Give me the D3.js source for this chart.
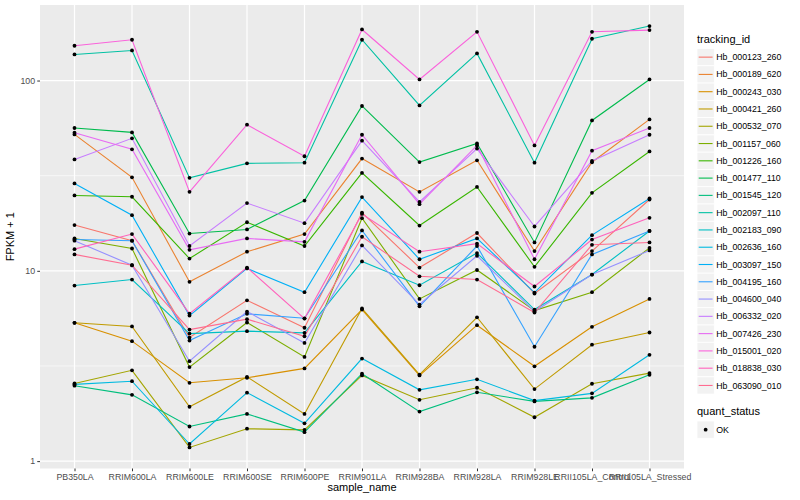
<!DOCTYPE html>
<html>
<head>
<meta charset="utf-8">
<script src="https://cdn.jsdelivr.net/npm/d3@7"></script>
<style>
  body { margin: 0; background: #fff; }
  text { font-family: "Liberation Sans", Arial, Helvetica, sans-serif; }
</style>
</head>
<body>
<div id="chart"></div>
<script>
// samples on the x axis
var samples = ["PB350LA", "RRIM600LA", "RRIM600LE", "RRIM600SE", "RRIM600PE", "RRIM901LA",
  "RRIM928BA", "RRIM928LA", "RRIM928LE", "RRII105LA_Control", "RRII105LA_Stressed"];

var trackingIds = ["Hb_000123_260", "Hb_000189_620", "Hb_000243_030", "Hb_000421_260", "Hb_000532_070",
  "Hb_001157_060", "Hb_001226_160", "Hb_001477_110", "Hb_001545_120", "Hb_002097_110",
  "Hb_002183_090", "Hb_002636_160", "Hb_003097_150", "Hb_004195_160", "Hb_004600_040",
  "Hb_006332_020", "Hb_007426_230", "Hb_015001_020", "Hb_018838_030", "Hb_063090_010"];

// ggplot hue palette, 20 levels
var colors = ["#F8766D", "#EA8331", "#D89000", "#C09B00", "#A3A500", "#7CAE00", "#39B600", "#00BB4E",
  "#00BF7D", "#00C1A3", "#00BFC4", "#00BAE0", "#00B0F6", "#35A2FF", "#9590FF", "#C77CFF",
  "#E76BF3", "#FA62DB", "#FF62BC", "#FF6C91"];

// FPKM + 1 per sample
var hb_000123_260 = [17.4, 14.4, 4.46, 7.0, 5.02, 20.2, 10.4, 15.8, 7.6, 12.7, 23.7];
var hb_000189_620 = [52.1, 31.0, 8.75, 12.6, 15.6, 38.9, 26.0, 38.1, 12.7, 37.2, 62.5];
var hb_000243_030 = [5.33, 4.27, 2.58, 2.74, 3.07, 6.26, 2.82, 5.18, 3.15, 5.08, 7.12];
var hb_000421_260 = [5.33, 5.10, 1.93, 2.77, 1.77, 6.34, 2.85, 5.70, 2.39, 4.09, 4.74];
var hb_000532_070 = [2.56, 3.00, 1.18, 1.48, 1.46, 2.82, 2.10, 2.43, 1.70, 2.55, 2.90];
var hb_001157_060 = [14.8, 13.1, 3.12, 5.35, 3.53, 18.9, 7.12, 10.1, 6.18, 7.72, 13.2];
var hb_001226_160 = [24.9, 24.5, 11.6, 18.0, 13.5, 32.7, 17.3, 27.6, 10.5, 25.7, 42.4];
var hb_001477_110 = [56.3, 53.4, 15.7, 16.5, 23.4, 73.5, 37.3, 46.7, 14.1, 61.7, 101.3];
var hb_001545_120 = [2.49, 2.23, 1.52, 1.77, 1.42, 2.88, 1.82, 2.30, 2.06, 2.15, 2.84];
var hb_002097_110 = [137.1, 143.9, 30.8, 36.7, 37.0, 163.8, 74.0, 138.8, 37.0, 165.8, 193.3];
var hb_002183_090 = [8.37, 9.0, 4.68, 4.82, 4.72, 11.2, 8.40, 12.4, 6.26, 9.56, 16.2];
var hb_002636_160 = [2.53, 2.63, 1.23, 2.29, 1.58, 3.46, 2.37, 2.69, 2.08, 2.27, 3.62];
var hb_003097_150 = [28.8, 19.6, 5.82, 10.3, 7.72, 24.4, 11.5, 14.8, 7.69, 15.4, 24.0];
var hb_004195_160 = [14.6, 14.4, 4.30, 5.94, 5.63, 16.3, 6.51, 13.5, 3.99, 12.2, 16.2];
var hb_004600_040 = [14.4, 10.7, 3.35, 6.11, 4.18, 13.6, 6.65, 12.0, 6.11, 9.56, 12.8];
var hb_006332_020 = [38.5, 49.7, 13.5, 22.7, 17.8, 48.3, 23.0, 43.9, 17.1, 37.8, 51.9];
var hb_007426_230 = [53.2, 43.5, 12.9, 14.8, 14.2, 51.9, 22.4, 45.6, 11.5, 42.8, 56.3];
var hb_015001_020 = [152.3, 163.8, 26.0, 58.6, 40.0, 185.5, 101.3, 180.4, 45.6, 180.4, 184.1];
var hb_018838_030 = [13.0, 15.6, 5.96, 10.4, 5.61, 19.9, 12.6, 13.9, 8.27, 14.6, 19.0];
var hb_063090_010 = [12.2, 10.7, 4.91, 5.57, 4.53, 15.1, 9.36, 9.0, 6.04, 13.7, 14.1];

var yMajor = [1, 10, 100];

var seriesValues = [hb_000123_260, hb_000189_620, hb_000243_030, hb_000421_260, hb_000532_070,
  hb_001157_060, hb_001226_160, hb_001477_110, hb_001545_120, hb_002097_110,
  hb_002183_090, hb_002636_160, hb_003097_150, hb_004195_160, hb_004600_040,
  hb_006332_020, hb_007426_230, hb_015001_020, hb_018838_030, hb_063090_010];

var series = trackingIds.map(function (id, i) {
  return {
    id: id,
    color: colors[i],
    points: samples.map(function (s, j) { return { sample: s, value: seriesValues[i][j] }; })
  };
});

var width = 800, height = 500;
var panel = { left: 40, right: 684, top: 5, bottom: 468.5 };

var svg = d3.select("#chart").append("svg")
  .attr("width", width)
  .attr("height", height);

// x: discrete with ggplot's 0.6 expansion
var x = d3.scalePoint()
  .domain(samples)
  .range([panel.left, panel.right])
  .padding(0.6);

// y: log10 with 5% expansion like ggplot
var all = [];
seriesValues.forEach(function (a) { all = all.concat(a); });
var lmin = Math.log10(d3.min(all)), lmax = Math.log10(d3.max(all));
var ex = (lmax - lmin) * 0.05;
var y = d3.scaleLog()
  .domain([Math.pow(10, lmin - ex), Math.pow(10, lmax + ex)])
  .range([panel.bottom, panel.top]);

// panel background
svg.append("rect")
  .attr("x", panel.left)
  .attr("y", panel.top)
  .attr("width", panel.right - panel.left)
  .attr("height", panel.bottom - panel.top)
  .attr("fill", "#EBEBEB");

// minor grid at log midpoints
var yMinor = [Math.pow(10, -0.5), Math.pow(10, 0.5), Math.pow(10, 1.5), Math.pow(10, 2.5)]
  .filter(function (d) { return d >= y.domain()[0] && d <= y.domain()[1]; });

svg.append("g").selectAll("line")
  .data(yMinor)
  .enter().append("line")
  .attr("x1", panel.left).attr("x2", panel.right)
  .attr("y1", function (d) { return y(d); })
  .attr("y2", function (d) { return y(d); })
  .attr("stroke", "#fff")
  .attr("stroke-width", 0.6);

svg.append("g").selectAll("line")
  .data(yMajor)
  .enter().append("line")
  .attr("x1", panel.left).attr("x2", panel.right)
  .attr("y1", function (d) { return y(d); })
  .attr("y2", function (d) { return y(d); })
  .attr("stroke", "#fff")
  .attr("stroke-width", 1.2);

svg.append("g").selectAll("line")
  .data(samples)
  .enter().append("line")
  .attr("x1", function (d) { return x(d); })
  .attr("x2", function (d) { return x(d); })
  .attr("y1", panel.top).attr("y2", panel.bottom)
  .attr("stroke", "#fff")
  .attr("stroke-width", 1.2);

// lines
var line = d3.line()
  .x(function (d) { return x(d.sample); })
  .y(function (d) { return y(d.value); });

svg.append("g").selectAll("path")
  .data(series)
  .enter().append("path")
  .attr("d", function (d) { return line(d.points); })
  .attr("fill", "none")
  .attr("stroke", function (d) { return d.color; })
  .attr("stroke-width", 1.1);

// points, all black (quant_status = OK)
var pts = [];
series.forEach(function (s) { pts = pts.concat(s.points); });
svg.append("g").selectAll("circle")
  .data(pts)
  .enter().append("circle")
  .attr("cx", function (d) { return x(d.sample); })
  .attr("cy", function (d) { return y(d.value); })
  .attr("r", 1.9)
  .attr("fill", "#000");

// axes
var xAxis = svg.append("g")
  .attr("transform", "translate(0," + panel.bottom + ")")
  .call(d3.axisBottom(x).tickSize(2.75).tickPadding(2.2));
var yAxis = svg.append("g")
  .attr("transform", "translate(" + panel.left + ",0)")
  .call(d3.axisLeft(y).tickValues(yMajor).tickFormat(d3.format("d")).tickSize(2.75).tickPadding(2.2));

[xAxis, yAxis].forEach(function (g) {
  g.select(".domain").remove();
  g.selectAll(".tick line").attr("stroke", "#333333").attr("stroke-width", 1);
  g.selectAll(".tick text")
    .attr("fill", "#4D4D4D")
    .style("font-size", "8.8px")
    .style("font-family", "'Liberation Sans', Arial, sans-serif");
});

// axis titles
svg.append("text")
  .attr("x", (panel.left + panel.right) / 2)
  .attr("y", 491)
  .attr("text-anchor", "middle")
  .style("font-size", "11px")
  .text("sample_name");

svg.append("text")
  .attr("transform", "rotate(-90)")
  .attr("x", -(panel.top + panel.bottom) / 2)
  .attr("y", 14)
  .attr("text-anchor", "middle")
  .style("font-size", "11px")
  .text("FPKM + 1");

// legend: tracking_id
var keySize = 17.28, legX = 697, legTop = 48.5;
var legend = svg.append("g");
legend.append("text")
  .attr("x", legX)
  .attr("y", 43)
  .style("font-size", "11px")
  .text("tracking_id");

var item = legend.selectAll("g.item")
  .data(series)
  .enter().append("g")
  .attr("class", "item")
  .attr("transform", function (d, i) { return "translate(" + legX + "," + (legTop + i * keySize) + ")"; });

item.append("rect")
  .attr("width", keySize).attr("height", keySize)
  .attr("fill", "#F2F2F2")
  .attr("stroke", "#fff")
  .attr("stroke-width", 0.8);
item.append("line")
  .attr("x1", 1.7).attr("x2", keySize - 1.7)
  .attr("y1", keySize / 2).attr("y2", keySize / 2)
  .attr("stroke", function (d) { return d.color; })
  .attr("stroke-width", 1.1);
item.append("text")
  .attr("x", keySize + 2)
  .attr("y", keySize / 2)
  .attr("dy", "0.35em")
  .attr("fill", "#000")
  .style("font-size", "8.8px")
  .text(function (d) { return d.id; });

// legend: quant_status
var qTop = 421;
legend.append("text")
  .attr("x", legX)
  .attr("y", 415)
  .style("font-size", "11px")
  .text("quant_status");
legend.append("rect")
  .attr("x", legX).attr("y", qTop)
  .attr("width", keySize).attr("height", keySize)
  .attr("fill", "#F2F2F2")
  .attr("stroke", "#fff")
  .attr("stroke-width", 0.8);
legend.append("circle")
  .attr("cx", legX + keySize / 2)
  .attr("cy", qTop + keySize / 2)
  .attr("r", 1.9)
  .attr("fill", "#000");
legend.append("text")
  .attr("x", legX + keySize + 2)
  .attr("y", qTop + keySize / 2)
  .attr("dy", "0.35em")
  .style("font-size", "8.8px")
  .text("OK");
</script>
</body>
</html>
